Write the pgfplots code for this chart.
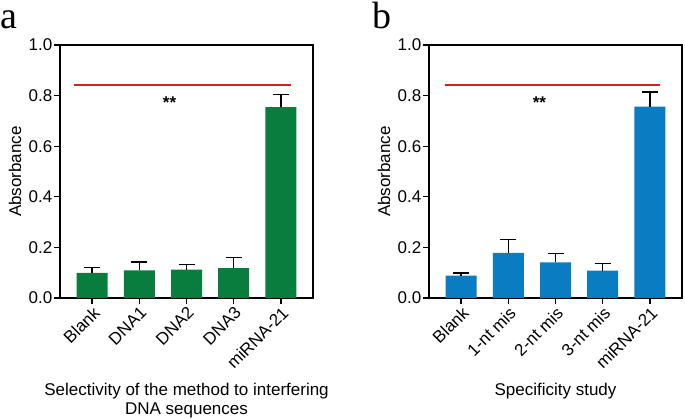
\documentclass[border=0pt]{standalone}
\usepackage{fontspec}
\setmainfont{Liberation Sans}
\newfontfamily\serifletter{Liberation Serif}
\usepackage{pgfplots}
\pgfplotsset{compat=1.18}
\definecolor{bargreen}{RGB}{8,125,62}
\definecolor{barblue}{RGB}{10,124,193}
\definecolor{sigred}{RGB}{214,32,32}
\pgfplotsset{
  panel/.style={
    scale only axis, width=253pt, height=253pt,
    anchor=south west,
    xmin=-0.68, xmax=4.68, ymin=0, ymax=1,
    ytick={0,0.2,0.4,0.6,0.8,1.0},
    yticklabel style={/pgf/number format/fixed, /pgf/number format/precision=1, /pgf/number format/fixed zerofill},
    /pgf/number format/assume math mode=true,
    xtick={0,1,2,3,4},
    tick align=outside, xtick pos=bottom, ytick pos=left,
    major tick length=6pt,
    axis line style={line width=1.3pt},
    every tick/.style={black, line width=1.3pt},
    tick label style={font=\fontsize{17}{19}\selectfont},
    yticklabel style={inner sep=1.5pt},
    xticklabel style={rotate=45, anchor=north east, inner sep=1pt},
    ylabel=Absorbance,
    ylabel style={font=\fontsize{17}{19}\selectfont, at={(axis description cs:-0.178,0.5)}, anchor=center},
    xlabel style={font=\fontsize{17}{19}\selectfont, align=center, anchor=center},
  },
}
\begin{document}
\begin{tikzpicture}
\useasboundingbox (0pt,0pt) rectangle (685pt,419pt);
\node[anchor=base west, inner sep=0pt, text height=26pt] at (0pt,390pt) {\serifletter\fontsize{38}{38}\selectfont a};
\node[anchor=base west, inner sep=0pt, text height=26pt] at (372pt,390pt) {\serifletter\fontsize{38}{38}\selectfont b};
\begin{axis}[panel, at={(60pt,121pt)},
  xticklabels={Blank,DNA1,DNA2,DNA3,miRNA-21},
  xlabel={Selectivity of the method to interfering\\DNA sequences},
  xlabel style={at={(axis description cs:0.5,-0.405)}}]
\addplot[ybar, bar width=31pt, fill=bargreen, draw=none,
  error bars/.cd, y dir=plus, y explicit,
  error bar style={line width=1.3pt, black},
  error mark options={rotate=90, mark size=8pt, line width=1.3pt, black}] coordinates {
  (0,0.099) +- (0,0.022)
  (1,0.109) +- (0,0.033)
  (2,0.112) +- (0,0.020)
  (3,0.118) +- (0,0.042)
  (4,0.754) +- (0,0.051)
};
\addplot[draw=sigred, line width=1.5pt, mark=none, forget plot] coordinates {(-0.38,0.842) (4.21,0.842)};
\node[font=\fontsize{17}{17}\selectfont\bfseries] at (axis cs:1.64,0.772) {**};
\end{axis}
\begin{axis}[panel, at={(429pt,121pt)},
  xticklabels={Blank,1-nt mis,2-nt mis,3-nt mis,miRNA-21},
  xlabel={Specificity study},
  xlabel style={at={(axis description cs:0.5,-0.368)}}]
\addplot[ybar, bar width=31pt, fill=barblue, draw=none,
  error bars/.cd, y dir=plus, y explicit,
  error bar style={line width=1.3pt, black},
  error mark options={rotate=90, mark size=8pt, line width=1.3pt, black}] coordinates {
  (0,0.088) +- (0,0.011)
  (1,0.178) +- (0,0.054)
  (2,0.141) +- (0,0.034)
  (3,0.108) +- (0,0.028)
  (4,0.756) +- (0,0.058)
};
\addplot[draw=sigred, line width=1.5pt, mark=none, forget plot] coordinates {(-0.34,0.842) (4.21,0.842)};
\node[font=\fontsize{17}{17}\selectfont\bfseries] at (axis cs:1.66,0.772) {**};
\end{axis}
\end{tikzpicture}
\end{document}
